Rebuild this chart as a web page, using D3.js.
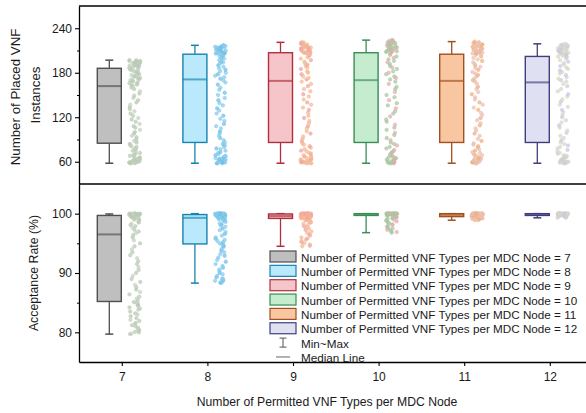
<!DOCTYPE html>
<html>
<head>
<meta charset="utf-8">
<script src="https://cdn.jsdelivr.net/npm/d3@7"></script>
<style>
    body { margin:0; background:#fff; }
    text { font-family: "Liberation Sans", Arial, sans-serif; fill:#1a1a1a; }
</style>
</head>
<body>
<svg id="chart" width="586" height="413"></svg>
<script>
var categories = [7, 8, 9, 10, 11, 12];

// box stats: [min, q1, median, q3, max]
var topStats = [
    [58, 85, 162, 186, 197],
    [58, 86, 171, 205, 217],
    [58, 86, 169, 207, 221],
    [58, 86, 170, 207, 224],
    [58, 86, 169, 205, 222],
    [58, 86, 167, 202, 219]
];
var botStats = [
    [79.7, 85.2, 96.5, 99.7, 99.95],
    [88.3, 94.9, 99.3, 99.85, 100],
    [94.5, 99.2, 99.6, 99.95, 100],
    [96.8, 99.7, 99.9, 100, 100],
    [98.9, 99.5, 99.8, 100, 100],
    [99.3, 99.7, 99.9, 100, 100]
];

// raw samples (placed VNF instances)
var top7 = [58,58,58,59,59,59,60,60,60,61,61,62,62,63,63,64,65,65,66,67,68,69,70,71,72,74,75,77,78,80,81,83,84,
    86,88,90,93,95,98,100,103,106,108,111,114,117,119,122,125,128,131,134,137,140,143,146,149,152,155,158,160,
    162,163,164,165,166,167,168,169,170,171,172,173,174,175,176,177,178,179,180,181,182,183,184,185,
    186,186,187,187,188,188,189,189,190,190,191,191,192,192,193,193,194,194,195,195,196,196,197,197];
var top8 = [58,58,58,59,59,59,60,60,61,61,62,62,63,64,64,65,66,67,68,69,70,72,73,75,77,78,80,82,84,
    86,89,92,95,98,101,105,108,111,115,118,122,125,129,132,136,139,143,146,150,153,157,160,164,167,170,
    172,174,176,178,180,182,184,186,188,190,192,194,195,197,199,200,202,203,204,
    205,205,206,206,207,207,208,208,209,209,210,210,211,211,212,212,213,213,214,214,215,215,216,216,217,217];
var top9 = [58,58,58,59,59,60,60,60,61,61,62,63,63,64,65,66,67,68,69,71,72,74,75,77,79,81,83,85,
    88,91,94,98,101,105,108,112,115,119,122,126,130,133,137,140,144,148,151,155,158,162,165,168,
    171,173,175,178,180,182,185,187,189,191,193,195,197,199,201,203,205,206,
    207,207,208,208,209,209,210,210,211,211,212,212,213,213,214,214,215,215,216,216,217,218,218,219,219,220,220,221,221];
var top10 = [58,58,58,59,59,60,60,60,61,61,62,63,63,64,65,66,67,68,70,71,73,74,76,78,80,82,84,86,
    89,92,96,99,103,106,110,114,117,121,125,128,132,136,139,143,147,150,154,158,161,165,168,
    171,173,175,178,180,182,185,187,189,192,194,196,198,200,202,204,206,
    207,208,208,209,209,210,211,211,212,212,213,214,214,215,215,216,217,217,218,218,219,220,220,221,221,222,223,223,224,224];
var top11 = [58,58,58,59,59,59,60,60,61,61,62,62,63,64,65,65,66,68,69,70,72,73,75,77,79,81,83,85,
    88,91,95,98,102,105,109,112,116,119,123,126,130,133,137,140,144,147,151,154,158,161,165,168,
    170,172,175,177,179,181,184,186,188,190,192,194,196,198,200,202,204,
    205,206,206,207,207,208,209,209,210,210,211,212,212,213,213,214,215,215,216,216,217,218,218,219,219,220,221,221,222];
var top12 = [58,58,58,59,59,60,60,60,61,61,62,63,63,64,65,66,67,68,69,71,72,74,76,78,80,82,84,86,
    89,92,95,99,102,106,109,113,116,120,123,127,130,134,137,141,144,148,151,155,158,162,165,
    168,170,172,174,177,179,181,183,185,187,189,191,193,195,197,199,201,
    202,203,203,204,204,205,206,206,207,207,208,209,209,210,210,211,212,212,213,213,214,215,215,216,216,217,218,218,219];

// raw samples (acceptance rate %)
var bot7 = [79.7,79.8,80.0,80.1,80.3,80.4,80.6,80.8,81.0,81.2,81.4,81.6,81.9,82.1,82.4,82.7,83.0,83.2,83.5,83.8,84.0,84.2,84.4,84.6,84.8,85.0,85.1,
    85.4,85.7,86.0,86.4,86.8,87.2,87.6,88.0,88.5,89.0,89.5,90.0,90.5,91.0,91.5,92.0,92.5,93.0,93.5,94.0,94.5,95.0,95.5,96.0,96.4,
    96.7,97.0,97.3,97.6,97.9,98.1,98.3,98.5,98.7,98.9,99.0,99.1,99.2,99.3,99.4,99.5,99.55,99.6,99.65,
    99.7,99.72,99.75,99.78,99.8,99.82,99.85,99.88,99.9,99.9,99.92,99.95,99.95,99.97,100,100,100,100,100,100,100,100];
var bot8 = [88.3,88.4,88.5,88.7,88.8,89.0,89.1,89.3,89.5,89.8,90.0,90.3,90.6,90.9,91.2,91.5,91.9,92.2,92.6,92.9,93.2,93.5,93.8,94.1,94.4,94.6,94.8,
    95.0,95.2,95.4,95.6,95.8,96.0,96.3,96.6,96.9,97.2,97.5,97.8,98.0,98.2,98.4,98.6,98.8,98.9,99.0,99.1,99.2,99.25,
    99.3,99.35,99.4,99.45,99.5,99.55,99.6,99.62,99.65,99.68,99.7,99.72,99.75,99.78,99.8,99.82,99.85,
    99.87,99.9,99.9,99.92,99.95,99.95,99.97,100,100,100,100,100,100,100,100,100,100,100,100,100,100];
var bot9 = [94.5,94.6,94.8,95.0,95.2,95.4,95.6,95.8,96.0,96.3,96.5,96.8,97.0,97.3,97.5,97.7,97.9,98.1,98.3,98.5,98.6,98.8,98.9,99.0,99.1,99.15,
    99.2,99.25,99.3,99.32,99.35,99.38,99.4,99.42,99.45,99.48,99.5,99.52,99.55,99.58,99.6,
    99.62,99.65,99.68,99.7,99.72,99.75,99.78,99.8,99.82,99.85,99.88,99.9,99.92,99.95,
    99.96,99.97,99.98,100,100,100,100,100,100,100,100,100,100,100,100,100,100,100,100];
var bot10 = [96.8,96.9,97.0,97.2,97.3,97.5,97.6,97.8,97.9,98.1,98.2,98.4,98.5,98.7,98.8,98.9,99.0,99.1,99.2,99.3,99.4,99.5,99.55,99.6,99.65,
    99.7,99.72,99.75,99.78,99.8,99.82,99.85,99.88,99.9,99.9,99.92,99.95,99.95,99.97,
    100,100,100,100,100,100,100,100,100,100,100,100,100,100,100,100,100,100,100,100,100,100,100,100,100];
var bot11 = [98.9,98.95,99.0,99.05,99.1,99.15,99.2,99.25,99.3,99.35,99.4,99.45,99.5,99.52,99.55,99.58,99.6,99.62,99.65,99.68,
    99.7,99.72,99.75,99.78,99.8,99.82,99.85,99.88,99.9,99.92,99.95,99.97,
    100,100,100,100,100,100,100,100,100,100,100,100,100,100,100,100,100,100,100,100,100,100,100,100];
var bot12 = [99.3,99.35,99.4,99.45,99.5,99.52,99.55,99.58,99.6,99.62,99.65,99.68,99.7,99.72,99.75,99.78,99.8,99.82,99.85,99.88,
    99.9,99.92,99.95,99.97,
    100,100,100,100,100,100,100,100,100,100,100,100,100,100,100,100,100,100,100,100,100,100,100,100];

var topSamples = [top7, top8, top9, top10, top11, top12];
var botSamples = [bot7, bot8, bot9, bot10, bot11, bot12];

var topTicks = [60, 120, 180, 240],
    topMinor = [90, 150, 210];
var botTicks = [80, 90, 100],
    botMinor = [85, 95];

var legendLabels = categories.map(function(c){ return 'Number of Permitted VNF Types per MDC Node = ' + c; });

var boxFill   = ['#bfbfbf', '#b9e9fa', '#f5c5c9', '#c5ecce', '#f8c6a0', '#e0e0f3'],
    boxStroke = ['#4f4f4f', '#1883b3', '#b02f3f', '#3a8d55', '#a0511f', '#3f3f7f'],
    dotA      = ['#b9c9b3', '#86cbec', '#f3bb93', '#a9c6a2', '#e9c1b4', '#d9d5c9'],
    dotB      = ['#c6d2c2', '#6fbfe6', '#f0a3a3', '#e6adad', '#f1ae7c', '#c9c9e2'];

(function(){
    var svg = d3.select('#chart');
    var L = 79, R = 592.6;

    var x = d3.scaleLinear().domain([6.5, 12.5]).range([L, R]);
    var yTop = d3.scaleLinear().domain([30, 270]).range([184, 6]);
    var yBot = d3.scaleLinear().domain([75, 105]).range([362, 184]);

    var boxOff = -12.5, dotOff = 13, boxW = 24, capW = 8;
    var jit = d3.randomUniform.source(d3.randomLcg(0.37))(-5.5, 5.5);
    var fs = '11.7px';

    // frame lines
    svg.append('line').attr('x1', L).attr('x2', 586).attr('y1', 6).attr('y2', 6)
        .style('stroke', '#000').style('stroke-width', 1.3);
    svg.append('line').attr('x1', L).attr('x2', 586).attr('y1', 184).attr('y2', 184)
        .style('stroke', '#000').style('stroke-width', 1.3);

    function panel(y, stats, samples, ticks, minor){
        var g = svg.append('g');

        // jittered samples
        samples.forEach(function(arr, k){
            var cx = x(categories[k]) + dotOff;
            g.append('g').selectAll('circle')
                .data(arr)
                .enter().append('circle')
                .attr('cx', function(){ return cx + jit(); })
                .attr('cy', function(d){ return y(d); })
                .attr('r', 1.7)
                .style('fill', function(d, i){ return i % 3 == 1 ? dotB[k] : dotA[k]; })
                .style('fill-opacity', 0.7)
                .style('stroke', function(d, i){ return i % 3 == 1 ? dotB[k] : dotA[k]; })
                .style('stroke-width', 0.6);
        });

        // boxes
        var b = g.selectAll('.box').data(stats).enter().append('g').attr('class', 'box');
        b.each(function(s, k){
            var sel = d3.select(this);
            var cx = x(categories[k]) + boxOff;
            var col = boxStroke[k];
            sel.append('line').attr('x1', cx).attr('x2', cx).attr('y1', y(s[4])).attr('y2', y(s[3]))
                .style('stroke', col).style('stroke-width', 1.3);
            sel.append('line').attr('x1', cx).attr('x2', cx).attr('y1', y(s[1])).attr('y2', y(s[0]))
                .style('stroke', col).style('stroke-width', 1.3);
            [s[0], s[4]].forEach(function(v){
                sel.append('line').attr('x1', cx - capW/2).attr('x2', cx + capW/2).attr('y1', y(v)).attr('y2', y(v))
                    .style('stroke', col).style('stroke-width', 1.5);
            });
            sel.append('rect')
                .attr('x', cx - boxW/2).attr('width', boxW)
                .attr('y', y(s[3])).attr('height', Math.max(1, y(s[1]) - y(s[3])))
                .style('fill', boxFill[k]).style('stroke', col).style('stroke-width', 1.4);
            sel.append('line').attr('x1', cx - boxW/2).attr('x2', cx + boxW/2).attr('y1', y(s[2])).attr('y2', y(s[2]))
                .style('stroke', col).style('stroke-width', 2).style('stroke-opacity', 0.65);
        });

        // y axis
        var ax = svg.append('g').attr('transform', 'translate(' + L + ',0)')
            .call(d3.axisLeft(y).tickValues(ticks).tickSize(4).tickSizeOuter(0).tickFormat(d3.format('d')));
        ax.select('.domain').style('stroke', '#000').style('stroke-width', 1.3);
        ax.selectAll('.tick line').style('stroke', '#000').style('stroke-width', 1.1);
        ax.selectAll('text').style('font-size', '12px').attr('x', -7);
        svg.append('g').attr('transform', 'translate(' + L + ',0)')
            .call(d3.axisLeft(y).tickValues(minor).tickSize(2).tickFormat(''))
            .call(function(a){ a.select('.domain').remove(); })
            .selectAll('line').style('stroke', '#000');
    }

    panel(yTop, topStats, topSamples, topTicks, topMinor);
    panel(yBot, botStats, botSamples, botTicks, botMinor);

    // x axis
    var xa = svg.append('g').attr('transform', 'translate(0,362)')
        .call(d3.axisBottom(x).tickValues(categories).tickSize(4).tickSizeOuter(0).tickFormat(d3.format('d')));
    xa.select('.domain').style('stroke', '#000').style('stroke-width', 1.3);
    xa.selectAll('.tick line').style('stroke', '#000').style('stroke-width', 1.1);
    xa.selectAll('text').style('font-size', '12px').attr('y', 10);

    // axis titles
    svg.append('text').attr('x', 327).attr('y', 406).attr('text-anchor', 'middle')
        .style('font-size', '12.2px').text('Number of Permitted VNF Types per MDC Node');
    svg.append('text').attr('transform', 'translate(19.5,97) rotate(-90)').attr('text-anchor', 'middle')
        .style('font-size', '13.3px').text('Number of Placed VNF');
    svg.append('text').attr('transform', 'translate(39.5,95) rotate(-90)').attr('text-anchor', 'middle')
        .style('font-size', '13.3px').text('Instances');
    svg.append('text').attr('transform', 'translate(37.5,273) rotate(-90)').attr('text-anchor', 'middle')
        .style('font-size', '12.3px').text('Acceptance Rate (%)');

    // legend
    var lg = svg.append('g').attr('transform', 'translate(270,251)');
    var row = 14.35;
    var items = lg.selectAll('.item').data(legendLabels).enter().append('g')
        .attr('transform', function(d, i){ return 'translate(0,' + (i * row) + ')'; });
    items.append('rect').attr('width', 26).attr('height', 11)
        .style('fill', function(d, i){ return boxFill[i]; })
        .style('stroke', function(d, i){ return boxStroke[i]; })
        .style('stroke-width', 1.2);
    items.append('text').attr('x', 31).attr('y', 10.5).style('font-size', fs).text(function(d){ return d; });

    var mm = lg.append('g').attr('transform', 'translate(13,' + (6 * row) + ')');
    mm.append('line').attr('x1', 0).attr('x2', 0).attr('y1', 1).attr('y2', 10).style('stroke', '#555');
    mm.append('line').attr('x1', -3.5).attr('x2', 3.5).attr('y1', 1).attr('y2', 1).style('stroke', '#555');
    mm.append('line').attr('x1', -3.5).attr('x2', 3.5).attr('y1', 10).attr('y2', 10).style('stroke', '#555');
    lg.append('text').attr('x', 31).attr('y', 6 * row + 10.5).style('font-size', fs).text('Min~Max');

    lg.append('line').attr('x1', 6).attr('x2', 20).attr('y1', 7 * row + 5.5).attr('y2', 7 * row + 5.5)
        .style('stroke', '#999').style('stroke-width', 1.5);
    lg.append('text').attr('x', 31).attr('y', 7 * row + 10.5).style('font-size', fs).text('Median Line');
})();
</script>
</body>
</html>
